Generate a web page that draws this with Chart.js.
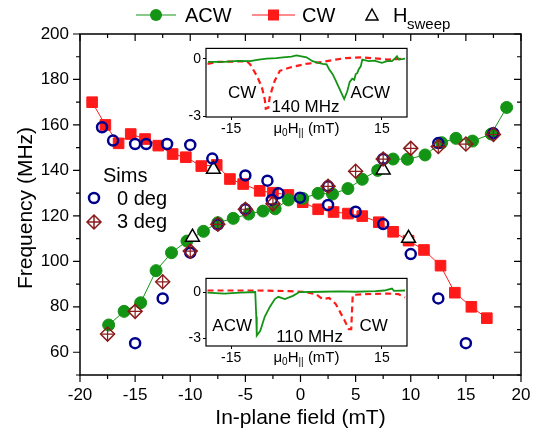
<!DOCTYPE html>
<html>
<head>
<meta charset="utf-8">
<script src="https://cdn.jsdelivr.net/npm/chart.js@4.4.1/dist/chart.umd.min.js"></script>
<style>
  body { margin: 0; background: #fff; overflow: hidden; }
  #wrap { position: relative; width: 538px; height: 434px; }
  canvas { position: absolute; }
</style>
</head>
<body>
<div id="wrap">
  <canvas id="main" width="538" height="434" style="left:0;top:0"></canvas>
  <canvas id="inset1" width="236" height="104" style="left:176px;top:38px"></canvas>
  <canvas id="inset2" width="236" height="104" style="left:176px;top:268px"></canvas>
</div>
<script>
// Main panel: frequency (MHz) vs in-plane field (mT)
const acwField = [-17.4, -16.0, -14.5, -13.1, -11.7, -10.3, -8.8, -7.5, -6.1, -4.7, -3.4, -2.3, -1.1, 0.2, 1.6, 2.9, 4.3, 5.6, 7.0, 8.4, 9.7, 11.3, 12.8, 14.1, 15.6, 17.3, 18.7];
const acwFreq = [72, 78, 81.8, 95.9, 103.8, 108.9, 113.2, 117, 118.9, 120.8, 122.1, 123.1, 127, 127.7, 129.9, 129.6, 132, 136.1, 140, 145, 144.9, 146.8, 152.2, 154.1, 152.9, 156, 167.7];

const cwField = [-18.9, -17.7, -16.5, -15.4, -14.1, -12.9, -11.6, -10.4, -9.0, -7.6, -6.4, -5.2, -3.7, -2.5, -1.1, 0.2, 1.6, 3.0, 4.3, 5.6, 7.1, 8.4, 9.8, 11.2, 12.7, 14.0, 15.5, 16.9];
const cwFreq = [170, 160, 151.9, 156, 153.8, 150.9, 147.2, 145.8, 141.9, 142.4, 136.2, 134, 131, 130.2, 129.2, 126, 122.9, 121.7, 121, 119.9, 117.2, 113, 109.1, 105, 98.1, 86.2, 80, 75];

const sweepField = [-9.8, -7.9, 7.5, 9.8];
const sweepFreq = [110.6, 140.5, 140.2, 110.1];

const sim0Field = [-18.0, -17.0, -15.0, -14.0, -12.1, -10.0, -8.0, -5.0, -3.0, -2.0, -0.05,
                   -15.0, -12.5, -10.0, -7.5, -5.0, -2.6,
                   2.5, 5.0, 7.5, 10.0, 12.5, 15.0,
                   2.5, 7.5, 12.5, 17.5];
const sim0Freq = [159, 153.1, 151.6, 151.6, 151.6, 151.2, 145.2, 137.8, 135.5, 129.9, 128,
                  64, 83.7, 103.8, 116.2, 122.9, 127,
                  124.8, 121.8, 116.4, 103.2, 83.7, 64,
                  133, 145, 152, 156.3];

const sim3Field = [-17.5, -15, -12.5, -10, -7.5, -5, -2.5, 2.5, 5, 7.5, 10, 12.5, 15, 17.5];
const sim3Freq = [68, 78, 91, 104.5, 116.3, 122.9, 125.3, 133, 139.6, 145, 149.7, 150.5, 151.6, 155.8];

const xTicks = [-20, -15, -10, -5, 0, 5, 10, 15, 20];
const yTicks = [60, 80, 100, 120, 140, 160, 180, 200];

// Inset at 140 MHz: signal vs mu0 H (mT)
const acw140Field = [-19.6, -16.4, -13.5, -11.2, -9.5, -7.9, -6.0, -4.7, -3.0, -2.0, -1.0, 0.0, 1.2, 2.2, 3.2, 4.0, 4.5, 5.2, 5.8, 6.8, 7.5, 8.1, 8.6, 9.1, 9.5, 9.8, 10.1, 10.4, 10.8, 11.1, 12.4, 13.5, 15.0, 16.2, 17.0, 17.5, 18.0, 18.4, 19.6];
const acw140Signal = [-0.17, -0.17, -0.12, -0.13, -0.05, 0, 0.03, 0.07, 0.1, 0.17, 0.12, 0.07, -0.13, -0.2, -0.27, -0.3, -0.55, -0.8, -1.13, -1.7, -2.09, -1.7, -1.2, -1.04, -1.1, -0.8, -0.75, -0.55, -0.4, -0.05, -0.13, -0.1, -0.22, -0.12, -0.13, -0.02, 0.12, -0.05, 0];
const cw140Field = [-19.7, -17.8, -14.0, -11.9, -11.2, -9.9, -8.9, -8.3, -8.1, -7.6, -7.3, -6.3, -5.3, -3.3, -0.1, 3.2, 5.8, 7.8, 11.1, 16.3, 19.6];
const cw140Signal = [-0.27, -0.17, -0.15, -0.13, -0.3, -0.88, -1.46, -2.12, -2.59, -2.54, -1.96, -1.13, -0.63, -0.46, -0.27, -0.17, -0.05, 0.03, 0.07, -0.05, 0];

// Inset at 110 MHz
const acw110Field = [-19.7, -16.4, -13.2, -10.2, -10.0, -9.9, -9.2, -8.3, -7.3, -6.3, -5.6, -4.3, -2.7, -1.4, 3.2, 6.5, 9.8, 13.7, 15.5, 17.0, 17.4, 19.6];
const acw110Signal = [-0.04, -0.1, -0.04, 0, -1.6, -2.84, -2.53, -1.6, -0.97, -0.46, -0.31, -0.46, -0.25, 0, 0.02, 0.05, 0.02, 0.06, 0.1, 0.23, 0.08, 0.1];
const cw110Field = [-19.7, -16.4, -9.9, -3.3, -0.1, 1.9, 3.2, 4.5, 5.8, 7.5, 8.4, 8.9, 9.2, 11.1, 16.3, 18.3, 19.6];
const cw110Signal = [0.1, 0.1, 0.1, 0.06, 0, -0.14, -0.46, -0.39, -0.77, -1.8, -2.42, -2.42, -0.19, -0.14, -0.1, -0.14, -0.35];

const GREEN = '#149414';
const RED = '#ff1a1a';
const NAVY = '#00008e';
const DARKRED = '#8b1c1c';
const FONT = "'Liberation Sans', Arial, sans-serif";

function pts(xs, ys) {
  return xs.map((x, i) => ({ x: x, y: ys[i] }));
}

// frame, inward/outward ticks, titles and the two legends
const mainDecor = {
  id: 'mainDecor',
  afterDraw(chart) {
    const ctx = chart.ctx;
    const a = chart.chartArea;
    const sx = chart.scales.x, sy = chart.scales.y;
    ctx.save();
    ctx.strokeStyle = '#000';
    ctx.lineWidth = 1.5;
    ctx.strokeRect(a.left, a.top, a.right - a.left, a.bottom - a.top);

    ctx.lineWidth = 1.2;
    ctx.beginPath();
    sx.ticks.forEach(t => {
      const px = sx.getPixelForValue(t.value);
      const len = xTicks.includes(t.value) ? 7 : 4;
      ctx.moveTo(px, a.bottom); ctx.lineTo(px, a.bottom + len);
      ctx.moveTo(px, a.top); ctx.lineTo(px, a.top + len);
    });
    sy.ticks.forEach(t => {
      const py = sy.getPixelForValue(t.value);
      const len = yTicks.includes(t.value) ? 7 : 4;
      ctx.moveTo(a.left, py); ctx.lineTo(a.left - len, py);
      ctx.moveTo(a.right, py); ctx.lineTo(a.right - len, py);
    });
    ctx.stroke();

    // axis titles
    ctx.fillStyle = '#000';
    ctx.font = '21px ' + FONT;
    ctx.textAlign = 'center';
    ctx.textBaseline = 'middle';
    ctx.fillText('In-plane field (mT)', (a.left + a.right) / 2, 418);
    ctx.save();
    ctx.translate(26, 208);
    ctx.rotate(-Math.PI / 2);
    ctx.fillText('Frequency (MHz)', 0, 0);
    ctx.restore();

    // top legend
    const cy = 15;
    ctx.textAlign = 'left';
    ctx.font = '20px ' + FONT;
    ctx.lineWidth = 1.2;
    ctx.strokeStyle = GREEN;
    ctx.beginPath(); ctx.moveTo(136, cy); ctx.lineTo(176, cy); ctx.stroke();
    ctx.fillStyle = GREEN;
    ctx.beginPath(); ctx.arc(156, cy, 6, 0, Math.PI * 2); ctx.fill();
    ctx.fillStyle = '#000';
    ctx.fillText('ACW', 185, cy + 1);

    ctx.strokeStyle = RED;
    ctx.beginPath(); ctx.moveTo(252, cy); ctx.lineTo(295, cy); ctx.stroke();
    ctx.fillStyle = RED;
    ctx.fillRect(268, cy - 5.5, 11, 11);
    ctx.fillStyle = '#000';
    ctx.fillText('CW', 302, cy + 1);

    ctx.strokeStyle = '#000';
    ctx.lineWidth = 1.5;
    ctx.beginPath();
    ctx.moveTo(372, cy - 6); ctx.lineTo(378, cy + 5); ctx.lineTo(366, cy + 5); ctx.closePath();
    ctx.stroke();
    ctx.fillText('H', 393, cy + 1);
    ctx.font = '15px ' + FONT;
    ctx.fillText('sweep', 407, cy + 10);

    // "Sims" legend inside the plot
    ctx.font = '20px ' + FONT;
    ctx.fillText('Sims', 103, 176);
    ctx.fillText('0 deg', 117, 199);
    ctx.fillText('3 deg', 117, 222);
    ctx.strokeStyle = NAVY;
    ctx.lineWidth = 2.5;
    ctx.beginPath(); ctx.arc(94, 198, 5, 0, Math.PI * 2); ctx.stroke();
    ctx.strokeStyle = DARKRED;
    ctx.lineWidth = 1.5;
    ctx.beginPath();
    ctx.moveTo(94, 215); ctx.lineTo(101, 222); ctx.lineTo(94, 229); ctx.lineTo(87, 222); ctx.closePath();
    ctx.moveTo(94, 215); ctx.lineTo(94, 229);
    ctx.moveTo(87, 222); ctx.lineTo(101, 222);
    ctx.stroke();
    ctx.restore();
  }
};

new Chart(document.getElementById('main'), {
  type: 'scatter',
  data: {
    datasets: [
      { label: '3 deg', data: pts(sim3Field, sim3Freq), pointStyle: 'cross', pointRadius: 7,
        borderColor: DARKRED, borderWidth: 1.2, order: 0 },
      { label: '3 deg', data: pts(sim3Field, sim3Freq), pointStyle: 'rectRot', pointRadius: 7,
        borderColor: DARKRED, backgroundColor: 'rgba(0,0,0,0)', borderWidth: 1.5, order: 1 },
      { label: '0 deg', data: pts(sim0Field, sim0Freq), pointStyle: 'circle', pointRadius: 5,
        borderColor: NAVY, backgroundColor: 'rgba(0,0,0,0)', borderWidth: 2.5, order: 2 },
      { label: 'Hsweep', data: pts(sweepField, sweepFreq), pointStyle: 'triangle', pointRadius: 8,
        borderColor: '#000', backgroundColor: '#fff', borderWidth: 1.5, order: 3 },
      { label: 'ACW', data: pts(acwField, acwFreq), showLine: true, borderColor: GREEN, borderWidth: 1,
        pointStyle: 'circle', pointRadius: 6, pointBackgroundColor: GREEN, pointBorderColor: GREEN, order: 4 },
      { label: 'CW', data: pts(cwField, cwFreq), showLine: true, borderColor: RED, borderWidth: 1,
        pointStyle: 'rect', pointRadius: 7.5, pointBackgroundColor: RED, pointBorderColor: RED, order: 5 }
    ]
  },
  options: {
    responsive: false,
    devicePixelRatio: 1,
    animation: false,
    layout: { padding: { top: 34, right: 17, left: 0, bottom: 0 } },
    plugins: { legend: { display: false }, tooltip: { enabled: false } },
    scales: {
      x: {
        type: 'linear', min: -20, max: 20,
        ticks: { stepSize: 2.5, autoSkip: false, maxRotation: 0, padding: 3, color: '#000',
                 font: { family: FONT, size: 17 },
                 callback: v => xTicks.includes(v) ? String(v) : '' },
        grid: { drawOnChartArea: false, drawTicks: true, tickLength: 7, color: 'rgba(0,0,0,0)' },
        border: { display: false },
        afterFit: s => { s.height = 59; }
      },
      y: {
        type: 'linear', min: 50, max: 200,
        ticks: { stepSize: 10, autoSkip: false, padding: 4, color: '#000',
                 font: { family: FONT, size: 17 },
                 callback: v => yTicks.includes(v) ? String(v) : '' },
        grid: { drawOnChartArea: false, drawTicks: true, tickLength: 7, color: 'rgba(0,0,0,0)' },
        border: { display: false },
        afterFit: s => { s.width = 80; }
      }
    }
  },
  plugins: [mainDecor]
});

// insets
function insetDecor(notes) {
  return {
    id: 'insetDecor',
    beforeDatasetsDraw(chart) {
      const a = chart.chartArea;
      chart.ctx.save();
      chart.ctx.fillStyle = '#fff';
      chart.ctx.fillRect(a.left, a.top, a.right - a.left, a.bottom - a.top);
      chart.ctx.restore();
    },
    afterDraw(chart) {
      const ctx = chart.ctx;
      const a = chart.chartArea;
      const sx = chart.scales.x, sy = chart.scales.y;
      ctx.save();
      ctx.strokeStyle = '#000';
      ctx.lineWidth = 1.2;
      ctx.strokeRect(a.left, a.top, a.right - a.left, a.bottom - a.top);
      ctx.fillStyle = '#000';
      ctx.textBaseline = 'middle';
      ctx.textAlign = 'center';
      ctx.font = '17px ' + FONT;
      notes.forEach(n => {
        ctx.fillText(n.text, sx.getPixelForValue(n.x), sy.getPixelForValue(n.y));
      });
      // axis title mu0 H|| (mT)
      const ty = a.bottom + 12;
      const parts = [['\u03bc', 15, 0], ['0', 10, 4], ['H', 15, 0], ['||', 10, 4], [' (mT)', 15, 0]];
      let w = 0;
      parts.forEach(p => { ctx.font = p[1] + 'px ' + FONT; w += ctx.measureText(p[0]).width; });
      let px = (a.left + a.right) / 2 - w / 2;
      ctx.textAlign = 'left';
      parts.forEach(p => {
        ctx.font = p[1] + 'px ' + FONT;
        ctx.fillText(p[0], px, ty + p[2]);
        px += ctx.measureText(p[0]).width;
      });
      ctx.restore();
    }
  };
}

function makeInset(id, acwX, acwY, cwX, cwY, yMin, yMax, xHeight, notes) {
  new Chart(document.getElementById(id), {
    type: 'scatter',
    data: {
      datasets: [
        { data: pts(acwX, acwY), showLine: true, borderColor: GREEN, borderWidth: 1.8, pointRadius: 0 },
        { data: pts(cwX, cwY), showLine: true, borderColor: RED, borderWidth: 2.2, borderDash: [6, 4], pointRadius: 0 }
      ]
    },
    options: {
      responsive: false,
      devicePixelRatio: 1,
      animation: false,
      layout: { padding: { top: 7, right: 5, left: 0, bottom: 0 } },
      plugins: { legend: { display: false }, tooltip: { enabled: false } },
      scales: {
        x: {
          type: 'linear', min: -20, max: 20,
          afterBuildTicks: s => { s.ticks = [{ value: -15 }, { value: 15 }]; },
          ticks: { padding: 1, color: '#000', maxRotation: 0, font: { family: FONT, size: 14 } },
          grid: { drawOnChartArea: false, drawTicks: true, tickLength: 3, color: '#000' },
          border: { display: false },
          afterFit: s => { s.height = xHeight; }
        },
        y: {
          type: 'linear', min: yMin, max: yMax,
          afterBuildTicks: s => { s.ticks = [{ value: -3 }, { value: 0 }]; },
          ticks: { padding: 2, color: '#000', font: { family: FONT, size: 14 } },
          grid: { drawOnChartArea: false, drawTicks: true, tickLength: 3, color: '#000' },
          border: { display: false },
          afterFit: s => { s.width = 30; }
        }
      }
    },
    plugins: [insetDecor(notes)]
  });
}

makeInset('inset1', acw140Field, acw140Signal, cw140Field, cw140Signal, -3.02, 0.53, 25, [
  { text: 'CW', x: -12.8, y: -1.79 },
  { text: 'ACW', x: 12.7, y: -1.79 },
  { text: '140 MHz', x: -0.2, y: -2.54 }
]);
makeInset('inset2', acw110Field, acw110Signal, cw110Field, cw110Signal, -3.52, 0.89, 26, [
  { text: 'ACW', x: -14.8, y: -2.22 },
  { text: 'CW', x: 13.35, y: -2.22 },
  { text: '110 MHz', x: 0.6, y: -2.94 }
]);
</script>
</body>
</html>
